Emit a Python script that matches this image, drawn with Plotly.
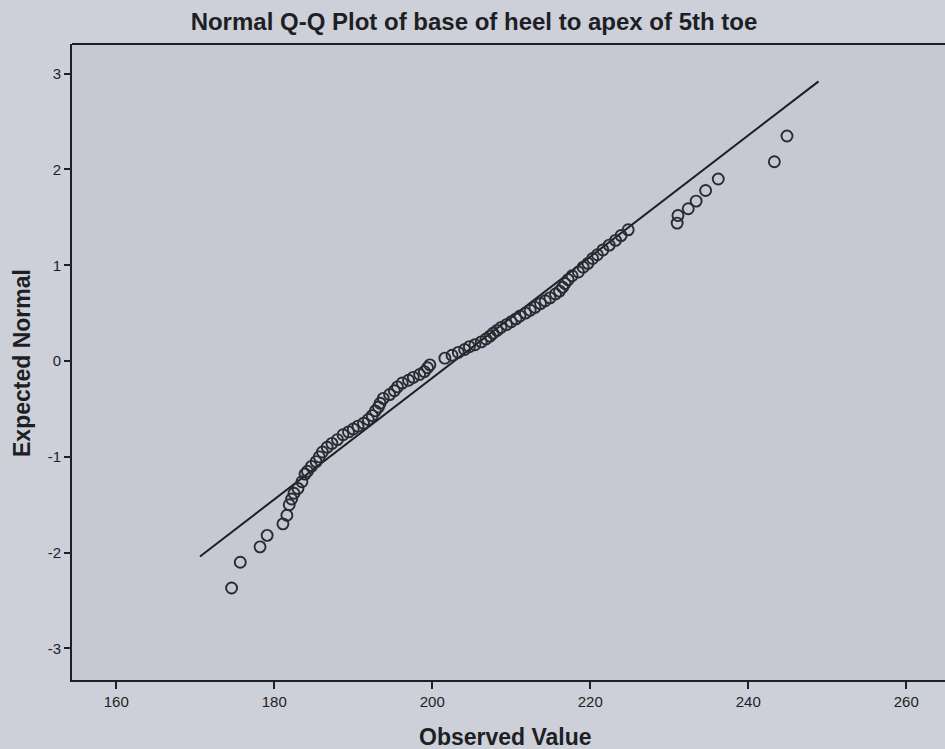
import plotly.graph_objects as go

observed = [174.6, 175.7, 178.2, 179.1, 181.1, 181.6, 181.9, 182.2, 182.5, 183.0,
            183.5, 183.9, 184.2, 184.7, 185.3, 185.7, 186.1, 186.7, 187.3, 188.0,
            188.7, 189.4, 190.0, 190.6, 191.3, 191.9, 192.4, 192.8, 193.2, 193.4,
            193.8, 194.6, 195.2, 195.6, 196.2, 197.0, 197.6, 198.4, 199.0, 199.4,
            199.7,
            201.6, 202.5, 203.3, 204.1, 204.7, 205.4, 206.2, 206.8, 207.3, 207.7,
            208.2, 208.7, 209.4, 210.0, 210.6, 211.1, 211.8, 212.4, 213.0, 213.7,
            214.3, 214.9, 215.6, 216.1, 216.5, 216.8, 217.2, 217.7, 218.5, 219.1,
            219.7, 220.3, 220.9, 221.6, 222.4, 223.2, 223.9, 224.8,
            231.0, 231.1, 232.4, 233.4, 234.6, 236.2, 243.3, 244.9]
expected = [-2.37, -2.10, -1.94, -1.82, -1.70, -1.61, -1.50, -1.44, -1.38, -1.33,
            -1.26, -1.18, -1.15, -1.10, -1.05, -1.00, -0.95, -0.90, -0.86, -0.82,
            -0.77, -0.74, -0.71, -0.68, -0.65, -0.61, -0.57, -0.52, -0.48, -0.44,
            -0.39, -0.35, -0.31, -0.27, -0.23, -0.20, -0.17, -0.14, -0.11, -0.07,
            -0.04,
            0.03, 0.06, 0.09, 0.12, 0.15, 0.17, 0.20, 0.23, 0.26, 0.29,
            0.32, 0.35, 0.38, 0.41, 0.44, 0.47, 0.50, 0.53, 0.56, 0.60,
            0.63, 0.66, 0.70, 0.73, 0.77, 0.81, 0.85, 0.89, 0.93, 0.98,
            1.02, 1.07, 1.11, 1.16, 1.21, 1.26, 1.31, 1.37,
            1.44, 1.52, 1.59, 1.67, 1.78, 1.90, 2.08, 2.35]

# Reference line end points
line_x = [170.6, 248.9]
line_y = [-2.04, 2.92]

x_ticks = [160, 180, 200, 220, 240, 260]
y_ticks = [-3, -2, -1, 0, 1, 2, 3]

title_text = "Normal Q-Q Plot of base of heel to apex of 5th toe"
x_title = "Observed Value"
y_title = "Expected Normal"

ink = "#1e1f24"
font_family = "Liberation Sans, Arial, sans-serif"

fig = go.Figure()
fig.add_trace(go.Scatter(x=line_x, y=line_y, mode="lines",
                         line=dict(color=ink, width=2), hoverinfo="skip"))
fig.add_trace(go.Scatter(x=observed, y=expected, mode="markers",
                         marker=dict(symbol="circle-open", size=11,
                                     color="#2a2b30", line=dict(width=1.9))))

fig.update_layout(
    width=945, height=749,
    margin=dict(l=72, r=0, t=44, b=69),
    paper_bgcolor="#cdd0d9",
    plot_bgcolor="#c6c9d3",
    showlegend=False,
    font=dict(family=font_family, color=ink),
    title=dict(text=title_text, x=474/945, xref="container", xanchor="center",
               y=1 - 22/749, yref="container", yanchor="middle",
               font=dict(size=24, family=font_family, color=ink, weight="bold")),
    xaxis=dict(range=[154.4, 264.9], tickvals=x_ticks, ticktext=[str(v) for v in x_ticks],
               showgrid=False, zeroline=False, showline=True, linecolor=ink, linewidth=2,
               ticks="outside", ticklen=7, tickwidth=2, tickcolor=ink,
               tickfont=dict(size=15, color=ink)),
    yaxis=dict(range=[-3.33, 3.31], tickvals=y_ticks, ticktext=[str(v) for v in y_ticks],
               showgrid=False, zeroline=False, showline=True, linecolor=ink, linewidth=2,
               ticks="outside", ticklen=6, tickwidth=2, tickcolor=ink,
               tickfont=dict(size=15, color=ink)),
    shapes=[dict(type="line", xref="paper", yref="paper", x0=0, x1=1, y0=1, y1=1,
                 line=dict(color=ink, width=2))],
    annotations=[
        dict(text=x_title, xref="paper", yref="paper", x=(505-72)/873, y=-(737-680)/636,
             xanchor="center", yanchor="middle", showarrow=False,
             font=dict(size=23, family=font_family, color=ink, weight="bold")),
        dict(text=y_title, xref="paper", yref="paper", x=-(72-22)/873, y=(680-363)/636,
             xanchor="center", yanchor="middle", showarrow=False, textangle=-90,
             font=dict(size=23, family=font_family, color=ink, weight="bold")),
    ],
)

fig.write_html("out.html")
